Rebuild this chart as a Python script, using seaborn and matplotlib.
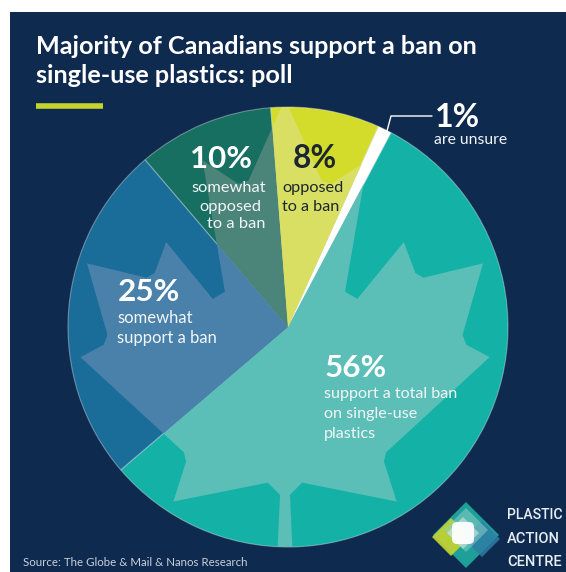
import matplotlib
matplotlib.use("Agg")
import matplotlib.pyplot as plt
import seaborn as sns
from matplotlib.patches import Polygon, Rectangle, FancyBboxPatch

# Poll results (per cent of respondents)
shares = [56, 25, 10, 8, 1]
descriptions = [
    "support a total ban\non single-use\nplastics",
    "somewhat\nsupport a ban",
    "somewhat\nopposed\nto a ban",
    "opposed\nto a ban",
    "are unsure",
]
slice_colors = ["#14B2A6", "#1B6D99", "#176F62", "#D3DC2B", "#FFFFFF"]
leaf_colors = ["#5CBFB7", "#4A81AA", "#4B8478", "#D8DF62", "#FFFFFF"]

title = "Majority of Canadians support a ban on\nsingle-use plastics: poll"
source = "Source: The Globe & Mail & Nanos Research"
logo_words = ["PLASTIC", "ACTION", "CENTRE"]

NAVY = "#0F2A4F"
W, H = 566, 572
CX, CY, R = 288, 327, 220


def P(px, py):
    """Pixel position on the canvas -> data coordinates (pie radius = 1)."""
    return ((px - CX) / R, (CY - py) / R)


sns.set_theme(style="white")
plt.rcParams["font.family"] = ["Lato", "DejaVu Sans"]

fig = plt.figure(figsize=(W / 100, H / 100), dpi=100, facecolor="white")
ax = fig.add_axes([0, 0, 1, 1])

# navy card
x0, y0 = P(10, H)
ax.add_patch(Rectangle((x0, y0), (W - 10) / R, (H - 12) / R,
                       facecolor=NAVY, edgecolor="none", zorder=0))

wedges, _ = ax.pie(shares, colors=slice_colors, startangle=62.1,
                   counterclock=False, radius=1, center=(0, 0),
                   wedgeprops=dict(linewidth=0.8, edgecolor=(1, 1, 1, 0.35)))
for w in wedges:
    w.set_zorder(2)

ax.set_xlim(-CX / R, (W - CX) / R)
ax.set_ylim((CY - H) / R, CY / R)
ax.set_aspect("equal")
ax.axis("off")

# maple leaf watermark, tinted per slice
half = [(-90, 2030), (-45, 1167), (-156, 1069), (-1015, 1220), (-899, 900),
        (-919, 827), (-1860, 65), (-1648, -34), (-1614, -113), (-1800, -685),
        (-1258, -570), (-1185, -608), (-1080, -855), (-657, -401), (-546, -458),
        (-750, -1510), (-423, -1321), (-332, -1348), (0, -2000)]
outline = half + [(-u, v) for (u, v) in reversed(half[:-1])]
leaf = [P(285 + 0.11 * u, 349 + 0.125 * v) for (u, v) in outline]
for w, c in zip(wedges[:4], leaf_colors[:4]):
    poly = Polygon(leaf, closed=True, facecolor=c, edgecolor="none", zorder=2.5)
    ax.add_patch(poly)
    poly.set_clip_path(w)

renderer = fig.canvas.get_renderer()


def block(lines, xs, baselines, width, weight, color, ha="left"):
    texts = [ax.text(*P(x, b), s, ha=ha, va="baseline", fontsize=12,
                     fontweight=weight, color=color, zorder=5)
             for s, x, b in zip(lines, xs, baselines)]
    widest = max(t.get_window_extent(renderer).width for t in texts)
    for t in texts:
        t.set_fontsize(12 * width / widest)
    return texts


# title and rule
block(title.split("\n"), [36, 36], [54, 83], 440, "bold", "white")
ax.plot(*zip(P(36, 106), P(103, 106)), color="#C6D52E", lw=4,
        solid_capstyle="butt", zorder=5)

# slice labels
pct = [f"{v}%" for v in shares]
WHITE_T = "#F2F6F8"
DARK_T = "#1C2630"

# 56%
block([pct[0]], [325], [377], 62, "bold", "white")
block(descriptions[0].split("\n"), [324] * 3, [398, 418, 438], 133,
      "normal", WHITE_T)
# 25%
block([pct[1]], [118], [301], 62, "bold", "white")
block(descriptions[1].split("\n"), [117] * 2, [323, 343], 100,
      "normal", WHITE_T)
# 10%
block([pct[2]], [221], [168], 62, "bold", "white", ha="center")
block(descriptions[2].split("\n"), [229, 230, 236], [192, 211, 228], 74,
      "normal", WHITE_T, ha="center")
# 8%
block([pct[3]], [293], [168], 44, "bold", DARK_T)
block(descriptions[3].split("\n"), [282, 282], [192, 211], 61,
      "normal", DARK_T)
# 1%
block([pct[4]], [435], [127], 45, "bold", "white")
block([descriptions[4]], [434], [144], 73, "normal", WHITE_T)
ax.plot(*zip(P(387, 131), P(391, 116), P(432, 116)), color="white",
        lw=1, zorder=5)

# source line
block([source], [23], [566], 224, "normal", "#C9D1DC")


# logo mark
def diamond(cx, cy, h, color, alpha=1.0, z=6):
    pts = [P(cx, cy - h), P(cx + h, cy), P(cx, cy + h), P(cx - h, cy)]
    ax.add_patch(Polygon(pts, closed=True, facecolor=color, edgecolor="none",
                         alpha=alpha, zorder=z, joinstyle="round"))


diamond(466, 535, 33, "#1E9F98")
diamond(451, 537, 19, "#C8D52F", 0.9, 6.1)
diamond(482, 539, 18, "#2E7EA7", 0.85, 6.2)
diamond(466, 530, 22, "#8CCFC6", 0.55, 6.3)
diamond(463, 533, 16, "#CFEAE6", 0.6, 6.35)
bx, by = P(452, 544)
ax.add_patch(FancyBboxPatch((bx, by), 22 / R, 22 / R,
                            boxstyle=f"round,pad=0,rounding_size={5 / R}",
                            facecolor="white", edgecolor="none", alpha=0.92,
                            zorder=6.4))

# wordmark, sized to sit inside the card's right edge
for word, b in zip(logo_words, [519, 543, 566]):
    t = ax.text(*P(507, b), word, ha="left", va="baseline",
                fontsize=10.5, fontweight="medium", color="#E8EEF2",
                family=["Roboto", "DejaVu Sans"], zorder=7)
    wpx = t.get_window_extent(renderer).width
    if wpx > 56:
        t.set_fontsize(10.5 * 56 / wpx)

fig.savefig("out.png", dpi=100, facecolor="white")
